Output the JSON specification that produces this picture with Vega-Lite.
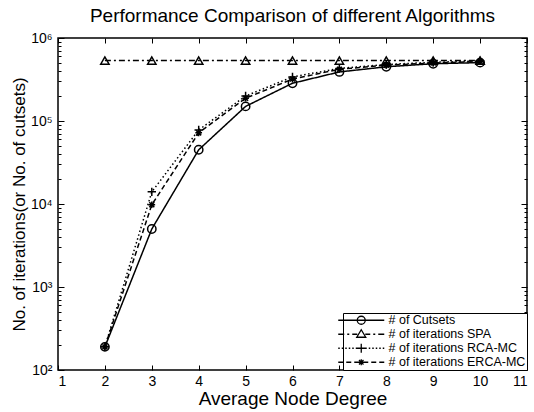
{
  "$schema": "https://vega.github.io/schema/vega-lite/v6.json",
  "width": 469,
  "height": 332,
  "autosize": {"type": "none"},
  "padding": {"left": 58, "top": 38, "right": 7, "bottom": 42},
  "background": "white",
  "title": {"text": "Performance Comparison of different Algorithms", "fontSize": 19, "fontWeight": "normal", "offset": 5, "color": "black", "anchor": "middle"},
  "config": {
    "font": "Liberation Sans",
    "view": {"stroke": "black", "strokeWidth": 1.5},
    "axis": {"labelColor": "black", "titleColor": "black", "tickColor": "black", "domainColor": "black", "titleFontWeight": "normal", "labelFontSize": 14, "titleFontSize": 18, "grid": false, "domain": false, "tickWidth": 1}
  },
  "data": {"values": [
    {"degree": 2, "count": 190, "series": "# of Cutsets"},
    {"degree": 3, "count": 5000, "series": "# of Cutsets"},
    {"degree": 4, "count": 45000, "series": "# of Cutsets"},
    {"degree": 5, "count": 150000, "series": "# of Cutsets"},
    {"degree": 6, "count": 285000, "series": "# of Cutsets"},
    {"degree": 7, "count": 390000, "series": "# of Cutsets"},
    {"degree": 8, "count": 450000, "series": "# of Cutsets"},
    {"degree": 9, "count": 490000, "series": "# of Cutsets"},
    {"degree": 10, "count": 505000, "series": "# of Cutsets"},
    {"degree": 2, "count": 535000, "series": "# of iterations SPA"},
    {"degree": 3, "count": 535000, "series": "# of iterations SPA"},
    {"degree": 4, "count": 535000, "series": "# of iterations SPA"},
    {"degree": 5, "count": 535000, "series": "# of iterations SPA"},
    {"degree": 6, "count": 535000, "series": "# of iterations SPA"},
    {"degree": 7, "count": 535000, "series": "# of iterations SPA"},
    {"degree": 8, "count": 535000, "series": "# of iterations SPA"},
    {"degree": 9, "count": 535000, "series": "# of iterations SPA"},
    {"degree": 10, "count": 535000, "series": "# of iterations SPA"},
    {"degree": 2, "count": 190, "series": "# of iterations RCA-MC"},
    {"degree": 3, "count": 14000, "series": "# of iterations RCA-MC"},
    {"degree": 4, "count": 78000, "series": "# of iterations RCA-MC"},
    {"degree": 5, "count": 200000, "series": "# of iterations RCA-MC"},
    {"degree": 6, "count": 340000, "series": "# of iterations RCA-MC"},
    {"degree": 7, "count": 430000, "series": "# of iterations RCA-MC"},
    {"degree": 8, "count": 480000, "series": "# of iterations RCA-MC"},
    {"degree": 9, "count": 510000, "series": "# of iterations RCA-MC"},
    {"degree": 10, "count": 530000, "series": "# of iterations RCA-MC"},
    {"degree": 2, "count": 190, "series": "# of iterations ERCA-MC"},
    {"degree": 3, "count": 9800, "series": "# of iterations ERCA-MC"},
    {"degree": 4, "count": 72000, "series": "# of iterations ERCA-MC"},
    {"degree": 5, "count": 188000, "series": "# of iterations ERCA-MC"},
    {"degree": 6, "count": 320000, "series": "# of iterations ERCA-MC"},
    {"degree": 7, "count": 420000, "series": "# of iterations ERCA-MC"},
    {"degree": 8, "count": 470000, "series": "# of iterations ERCA-MC"},
    {"degree": 9, "count": 500000, "series": "# of iterations ERCA-MC"},
    {"degree": 10, "count": 520000, "series": "# of iterations ERCA-MC"}
  ]},
  "layer": [
    {
      "mark": {"type": "line", "color": "black", "strokeWidth": 1.5},
      "encoding": {
        "x": {"field": "degree", "type": "quantitative", "scale": {"domain": [1, 11], "nice": false, "zero": false},
              "axis": {"orient": "bottom", "values": [1,2,3,4,5,6,7,8,9,10,11], "title": "Average Node Degree", "titleFontSize": 19, "tickSize": -5, "labelPadding": 9, "titlePadding": 1}},
        "y": {"field": "count", "type": "quantitative", "scale": {"type": "log", "domain": [100, 1000000], "nice": false},
              "axis": {"orient": "left", "values": [100,200,300,400,500,600,700,800,900,1000,2000,3000,4000,5000,6000,7000,8000,9000,10000,20000,30000,40000,50000,60000,70000,80000,90000,100000,200000,300000,400000,500000,600000,700000,800000,900000,1000000],
                       "labelExpr": "datum.value == 100 ? '10²' : datum.value == 1000 ? '10³' : datum.value == 10000 ? '10⁴' : datum.value == 100000 ? '10⁵' : datum.value == 1000000 ? '10⁶' : ''",
                       "tickSize": {"condition": {"test": "indexof([100,1000,10000,100000,1000000], datum.value) >= 0", "value": -6}, "value": -3},
                       "labelPadding": 12, "title": "No. of iterations(or No. of cutsets)", "titleFontSize": 17, "titlePadding": 2}},
        "strokeDash": {"field": "series", "type": "nominal",
                       "scale": {"domain": ["# of Cutsets", "# of iterations SPA", "# of iterations RCA-MC", "# of iterations ERCA-MC"], "range": [[1, 0], [6, 3, 2, 3], [1.5, 2.5], [5, 3]]},
                       "legend": null}
      }
    },
    {
      "mark": {"type": "point", "color": "black", "filled": false, "strokeWidth": 1.5, "size": 70, "opacity": 1},
      "encoding": {
        "x": {"field": "degree", "type": "quantitative",
              "axis": {"orient": "top", "values": [1,2,3,4,5,6,7,8,9,10,11], "labels": false, "title": null, "tickSize": -5}},
        "y": {"field": "count", "type": "quantitative",
              "axis": {"orient": "right", "values": [100,200,300,400,500,600,700,800,900,1000,2000,3000,4000,5000,6000,7000,8000,9000,10000,20000,30000,40000,50000,60000,70000,80000,90000,100000,200000,300000,400000,500000,600000,700000,800000,900000,1000000],
                       "labels": false, "title": null,
                       "tickSize": {"condition": {"test": "indexof([100,1000,10000,100000,1000000], datum.value) >= 0", "value": -6}, "value": -3}}},
        "shape": {"field": "series", "type": "nominal",
                  "scale": {"domain": ["# of Cutsets", "# of iterations SPA", "# of iterations RCA-MC", "# of iterations ERCA-MC"],
                            "range": ["circle", "triangle-up", "M-1,0H1M0,-1V1", "M-0.8,0H0.8M0,-0.8V0.8M-0.6,-0.6L0.6,0.6M-0.6,0.6L0.6,-0.6"]},
                  "legend": null}
      }
    },
    {
      "mark": {"type": "point", "color": "black", "filled": false, "opacity": 0},
      "encoding": {
        "x": {"field": "degree", "type": "quantitative", "axis": null},
        "y": {"field": "count", "type": "quantitative", "axis": null},
        "shape": {"field": "series", "type": "nominal",
                  "scale": {"domain": ["# of Cutsets", "# of iterations SPA", "# of iterations RCA-MC", "# of iterations ERCA-MC"],
                            "range": [
                              "M-4.6,0H4.6M-0.8,0A0.8,0.8 0 1,0 0.8,0A0.8,0.8 0 1,0 -0.8,0",
                              "M-4.6,0H-3.4M-2.8,0H-2.4M-1.8,0H-0.8M0.8,0H1.8M2.4,0H2.8M3.4,0H4.6M0,-0.9L0.9,0.6L-0.9,0.6Z",
                              "M-4.6,0H-4.3M-3.9,0H-3.6M-3.2,0H-2.9M-2.5,0H-2.2M-1.8,0H-1.5M-1.1,0H-0.8M0.8,0H1.1M1.5,0H1.8M2.2,0H2.5M2.9,0H3.2M3.6,0H3.9M4.3,0H4.6M-0.9,0H0.9M0,-0.9V0.9",
                              "M-4.6,0H-3.6M-3,0H-2M-1.4,0H-0.6M0.6,0H1.4M2,0H3M3.6,0H4.6M-0.6,0H0.6M0,-0.6V0.6M-0.45,-0.45L0.45,0.45M-0.45,0.45L0.45,-0.45"
                            ]},
                  "legend": {"orient": "bottom-right", "offset": 0, "title": null, "strokeColor": "black", "fillColor": "white", "padding": 1,
                             "symbolSize": 100, "symbolOffset": 11, "labelOffset": 21, "labelFontSize": 12.5, "rowPadding": 0,
                             "symbolStrokeWidth": 1.3, "symbolStrokeColor": "black", "symbolFillColor": "transparent", "symbolOpacity": 1, "labelColor": "black", "labelLimit": 0}}
      }
    }
  ],
  "resolve": {"scale": {"shape": "independent"}, "axis": {"x": "independent", "y": "independent"}}
}
